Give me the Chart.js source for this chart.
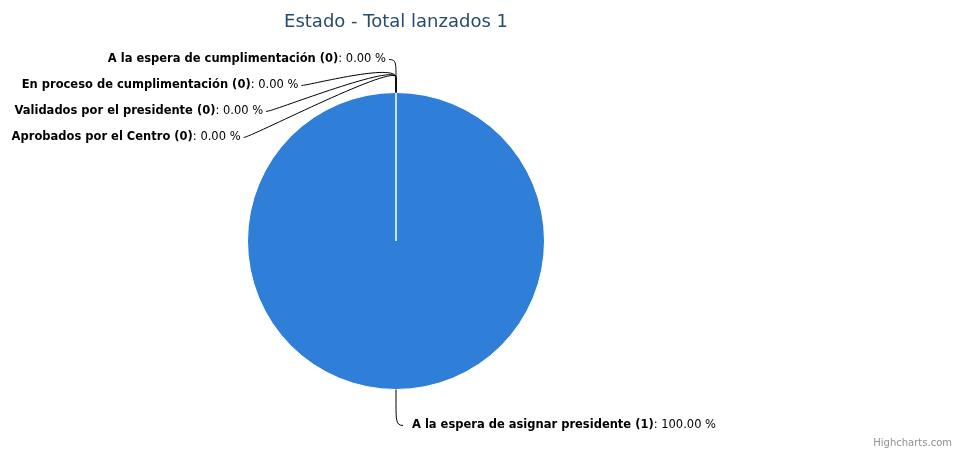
<!DOCTYPE html>
<html>
<head>
<meta charset="utf-8">
<script src="https://cdn.jsdelivr.net/npm/chart.js@4/dist/chart.umd.min.js"></script>
<style>
  html, body { margin: 0; padding: 0; background: #ffffff; }
  #wrap { width: 958px; height: 450px; position: relative; }
</style>
</head>
<body>
<div id="wrap"><canvas id="c" width="958" height="450"></canvas></div>
<script>
const chartTitle = 'Estado - Total lanzados 1';
const categories = [
  'A la espera de asignar presidente',
  'A la espera de cumplimentación',
  'En proceso de cumplimentación',
  'Validados por el presidente',
  'Aprobados por el Centro'
];
const counts = [1, 0, 0, 0, 0];
const percents = [100, 0, 0, 0, 0];
const sliceColor = '#2f7ed8';
const creditsText = 'Highcharts.com';

const FONT = '"DejaVu Sans", "Noto Sans", sans-serif';

const labelPlugin = {
  id: 'hcLabels',
  afterDraw(chart) {
    const ctx = chart.ctx;
    const meta = chart.getDatasetMeta(0);
    const a0 = meta.data[0];
    const cx = a0.x, cy = a0.y, r = a0.outerRadius;
    const dist = 30;
    const R = r + dist;
    ctx.save();

    // title
    ctx.font = '18px ' + FONT;
    ctx.fillStyle = '#274b6d';
    ctx.textAlign = 'center';
    ctx.textBaseline = 'alphabetic';
    ctx.fillText(chartTitle, cx, 27);

    // credits
    ctx.font = '10px ' + FONT;
    ctx.fillStyle = '#909090';
    ctx.textAlign = 'right';
    ctx.fillText(creditsText, chart.width - 6, 446);

    const drawLabel = (i, y, side) => {
      const el = meta.data[i];
      const ang = (el.startAngle + el.endAngle) / 2;
      const baseX = cx + r * Math.cos(ang), baseY = cy + r * Math.sin(ang);
      const brkX = cx + (r + dist / 2) * Math.cos(ang), brkY = cy + (r + dist / 2) * Math.sin(ang);
      const dy = y - cy;
      const dx = Math.sqrt(Math.max(0, R * R - dy * dy));
      const ax = side === 'left' ? cx - dx : cx + dx;
      const sx = side === 'left' ? ax - 7 : ax + 7;
      // connector
      ctx.beginPath();
      ctx.strokeStyle = '#000000';
      ctx.lineWidth = 1;
      ctx.moveTo(sx, y);
      ctx.bezierCurveTo(ax, y, 2 * brkX - baseX, 2 * brkY - baseY, brkX, brkY);
      ctx.lineTo(baseX, baseY);
      ctx.stroke();
      // text
      const name = categories[i] + ' (' + counts[i] + ')';
      const rest = ': ' + percents[i].toFixed(2) + ' %';
      const bold = 'bold 11.5px ' + FONT;
      const norm = '11.5px ' + FONT;
      ctx.font = bold; const wName = ctx.measureText(name).width;
      ctx.font = norm; const wRest = ctx.measureText(rest).width;
      ctx.textBaseline = 'middle';
      ctx.textAlign = 'left';
      ctx.fillStyle = '#000000';
      let tx = side === 'left' ? sx - 3 - (wName + wRest) : sx + 9;
      ctx.font = bold; ctx.fillText(name, tx, y);
      ctx.font = norm; ctx.fillText(rest, tx + wName, y);
    };

    // zero slices stacked on the left, top to bottom
    const zeroIdx = [];
    for (let i = 0; i < counts.length; i++) if (percents[i] === 0) zeroIdx.push(i);
    const topY = cy - r - 33;
    zeroIdx.forEach((i, k) => drawLabel(i, topY + 26 * k, 'left'));
    // main slice label at the bottom
    for (let i = 0; i < counts.length; i++) if (percents[i] > 0) drawLabel(i, cy + r + 36, 'right');

    ctx.restore();
  }
};

new Chart(document.getElementById('c'), {
  type: 'pie',
  data: {
    labels: categories,
    datasets: [{
      data: counts,
      backgroundColor: categories.map(() => sliceColor),
      borderColor: '#ffffff',
      borderWidth: 1
    }]
  },
  options: {
    responsive: false,
    animation: false,
    layout: { padding: { left: 0, right: 166, top: 92, bottom: 60 } },
    plugins: {
      legend: { display: false },
      title: { display: false },
      tooltip: { enabled: false }
    }
  },
  plugins: [labelPlugin]
});
</script>
</body>
</html>
